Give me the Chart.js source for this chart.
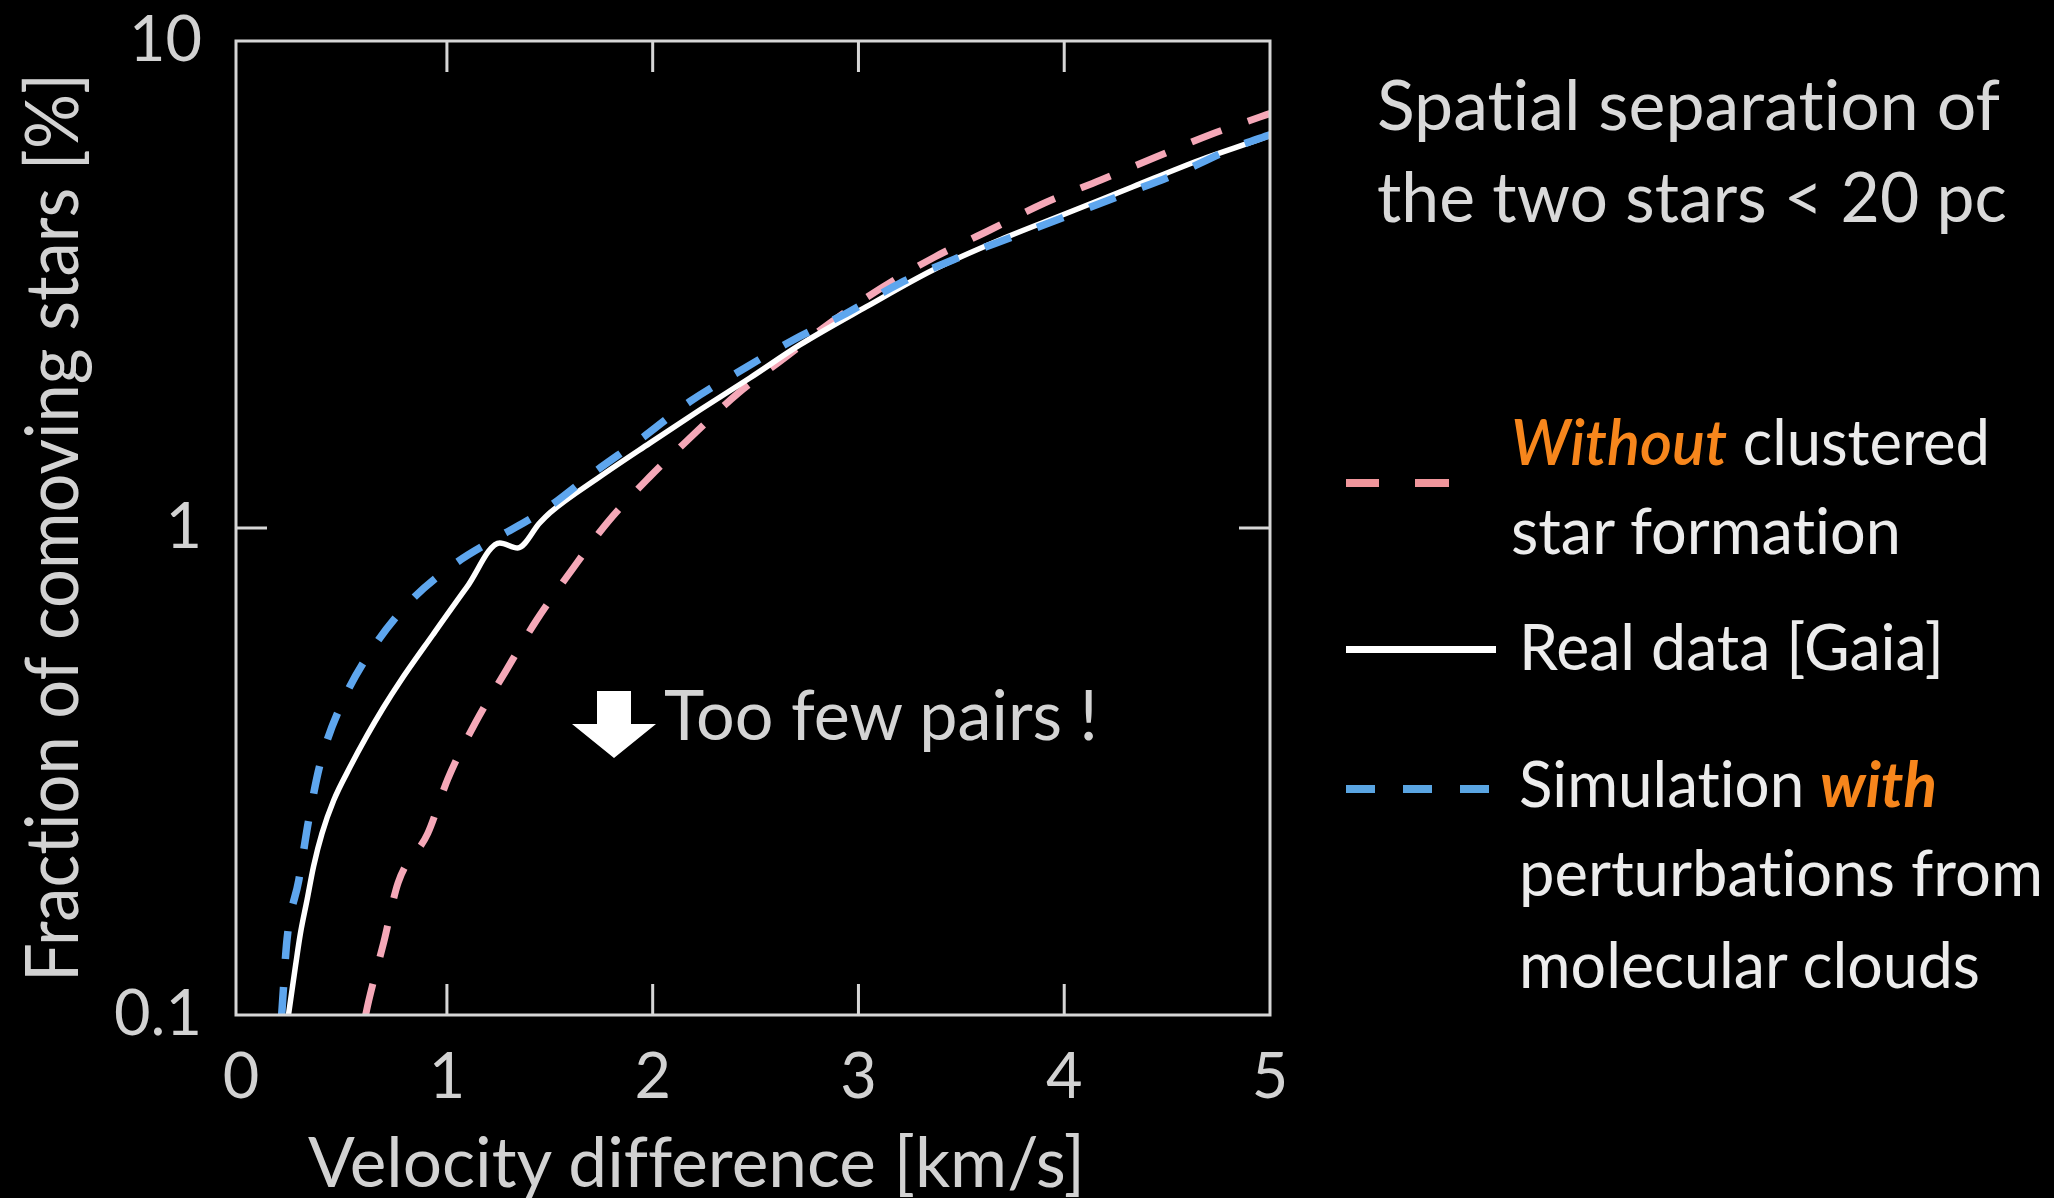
<!DOCTYPE html>
<html><head><meta charset="utf-8">
<script src="https://cdn.jsdelivr.net/npm/chart.js@4.4.1/dist/chart.umd.min.js"></script>
<style>
html,body{margin:0;padding:0;background:#000;overflow:hidden}
#wrap{position:relative;width:2054px;height:1198px;background:#000}
canvas{display:block;position:absolute;left:0;top:0}
.t{position:absolute;left:0;top:0;white-space:nowrap;font-family:Lato,sans-serif;line-height:1.2;margin:0;padding:0;
   font-variant-ligatures:none;font-feature-settings:"liga" 0,"clig" 0,"dlig" 0}
.t span{font-family:Lato,sans-serif;white-space:pre}
.t span.p{display:inline-block}
</style>
</head><body>
<div id="wrap">
<canvas id="c" width="2054" height="1198" style="width:2054px;height:1198px"></canvas>
</div>
<script>
// ---- data ----
const realV = [0.23, 0.264, 0.288, 0.320, 0.352, 0.393, 0.450, 0.531, 0.612, 0.693, 0.771, 0.931, 1.096, 1.257, 1.344, 1.451, 1.500, 1.743, 1.986, 2.229, 2.472, 2.715, 3.039, 3.362, 3.687, 4.012, 4.334, 4.660, 4.984, 5.0];
const realF = [0.100, 0.126, 0.147, 0.172, 0.202, 0.236, 0.276, 0.324, 0.375, 0.429, 0.483, 0.603, 0.755, 0.932, 0.910, 1.024, 1.074, 1.274, 1.494, 1.747, 2.032, 2.376, 2.848, 3.387, 3.904, 4.428, 5.021, 5.696, 6.361, 6.40];
const simV = [0.197, 0.223, 0.280, 0.328, 0.385, 0.490, 0.628, 0.813, 1.036, 1.246, 1.469, 1.719, 1.946, 2.180, 2.432, 2.683, 2.942, 3.201, 3.477, 3.752, 4.028, 4.303, 4.571, 4.838, 5.0];
const simF = [0.100, 0.143, 0.189, 0.251, 0.329, 0.437, 0.557, 0.701, 0.843, 0.956, 1.085, 1.305, 1.528, 1.817, 2.111, 2.432, 2.760, 3.180, 3.579, 3.965, 4.392, 4.867, 5.391, 6.067, 6.42];
const noClusterV = [0.605, 0.620, 0.693, 0.763, 0.907, 1.004, 1.138, 1.283, 1.437, 1.607, 1.782, 1.986, 2.196, 2.415, 2.647, 2.861, 3.119, 3.371, 3.639, 3.904, 4.178, 4.446, 4.718, 4.951, 5.0];
const noClusterF = [0.100, 0.107, 0.141, 0.187, 0.236, 0.305, 0.398, 0.506, 0.648, 0.820, 1.029, 1.274, 1.552, 1.891, 2.244, 2.636, 3.126, 3.602, 4.092, 4.649, 5.184, 5.779, 6.442, 6.98, 7.1];
const xTickValues = [0, 1, 2, 3, 4, 5];
const yTickValues = [0.1, 1, 10];
const yTickLabels = ['0.1', '1', '10'];
const xInnerTicks = [1, 2, 3, 4];
const yInnerTicks = [1];
const xTitle = 'Velocity difference [km/s]';
const yTitle = 'Fraction of comoving stars [%]';
const headerLines = ['Spatial separation of', 'the two stars < 20 pc'];

const pts = (xs, ys) => xs.map((v, i) => ({x: v, y: ys[i]}));
const FONT = 'Lato';
const AXIS_GRAY = '#d2d2d2';
const ORANGE = '#f7861c', LEG = '#ececec', HEAD = '#d9d9d9';

// split a string where the font would form a ligature (ti, ff, fi, fl)
function ligPieces(str) {
  const out = []; let cur = '';
  for (let i = 0; i < str.length; i++) {
    const p = str[i - 1], c = str[i];
    if (cur && ((p === 't' && c === 'i') || (p === 'f' && 'fil'.includes(c)))) { out.push(cur); cur = ''; }
    cur += c;
  }
  if (cur) out.push(cur);
  return out;
}

// HTML text placed by baseline, fitted to the measured width of the reference
function placeText(segs, x, baseline, width, size, rotate) {
  const wrap = document.getElementById('wrap');
  const d = document.createElement('div');
  d.className = 't';
  d.style.fontSize = size + 'px';
  segs.forEach(s => {
    ligPieces(s.t).forEach(piece => {
      const sp = document.createElement('span');
      sp.className = 'p';
      sp.textContent = piece;
      sp.style.color = s.c;
      sp.style.fontStyle = s.style || 'normal';
      sp.style.fontWeight = s.weight || 400;
      d.appendChild(sp);
    });
  });
  const mk = document.createElement('span');
  mk.style.cssText = 'display:inline-block;width:0;height:0;vertical-align:baseline';
  d.appendChild(mk);
  wrap.appendChild(d);
  const b = mk.offsetTop;
  const w = d.getBoundingClientRect().width;
  let sx = width / w; sx = Math.max(0.8, Math.min(1.25, sx));
  d.style.left = x + 'px';
  d.style.top = (baseline - b) + 'px';
  d.style.transformOrigin = `0px ${b}px`;
  d.style.transform = (rotate ? 'rotate(-90deg) ' : '') + `scaleX(${sx})`;
}

const decor = {
  id: 'decor',
  beforeDraw(chart) {
    const ctx = chart.ctx;
    ctx.save(); ctx.fillStyle = '#000'; ctx.fillRect(0, 0, chart.width, chart.height); ctx.restore();
  },
  afterDatasetsDraw(chart) {
    const ctx = chart.ctx, a = chart.chartArea, xs = chart.scales.x, ys = chart.scales.y;
    ctx.save();
    ctx.strokeStyle = '#d6d6d6'; ctx.lineWidth = 3;
    ctx.strokeRect(a.left, a.top, a.right - a.left, a.bottom - a.top);
    const tl = 31;
    ctx.beginPath();
    xInnerTicks.forEach(v => {
      const p = xs.getPixelForValue(v);
      ctx.moveTo(p, a.bottom); ctx.lineTo(p, a.bottom - tl);
      ctx.moveTo(p, a.top); ctx.lineTo(p, a.top + tl);
    });
    yInnerTicks.forEach(v => {
      const p = ys.getPixelForValue(v);
      ctx.moveTo(a.left, p); ctx.lineTo(a.left + tl, p);
      ctx.moveTo(a.right, p); ctx.lineTo(a.right - tl, p);
    });
    ctx.stroke();
    ctx.restore();
  },
  afterDraw(chart) {
    const ctx = chart.ctx;
    // "too few pairs" arrow
    ctx.save();
    ctx.fillStyle = '#ffffff';
    ctx.beginPath();
    ctx.moveTo(597, 691); ctx.lineTo(631, 691); ctx.lineTo(631, 724); ctx.lineTo(656, 724);
    ctx.lineTo(614, 758); ctx.lineTo(572, 724); ctx.lineTo(597, 724); ctx.closePath(); ctx.fill();
    // legend line samples
    ctx.fillStyle = '#f0969c';
    [[1346, 1379], [1415, 1449]].forEach(d => ctx.fillRect(d[0], 479, d[1] - d[0], 8));
    ctx.fillStyle = '#ffffff';
    ctx.fillRect(1346, 646, 150, 7);
    ctx.fillStyle = '#5aa5e2';
    [[1346, 1375], [1403, 1432], [1460, 1489]].forEach(d => ctx.fillRect(d[0], 785, d[1] - d[0], 8));
    ctx.restore();
  }
};

new Chart(document.getElementById('c'), {
  type: 'line',
  data: {
    datasets: [
      {label: 'Simulation with perturbations from molecular clouds', data: pts(simV, simF),
       borderColor: '#5ea6ee', borderWidth: 7.5, borderDash: [28, 28], order: 1},
      {label: 'Real data [Gaia]', data: pts(realV, realF),
       borderColor: '#ffffff', borderWidth: 5.5, order: 2},
      {label: 'Without clustered star formation', data: pts(noClusterV, noClusterF),
       borderColor: '#f5a8b8', borderWidth: 7, borderDash: [32, 28], order: 3}
    ]
  },
  options: {
    responsive: false, animation: false, devicePixelRatio: 1,
    elements: {point: {radius: 0}, line: {cubicInterpolationMode: 'monotone', fill: false, borderCapStyle: 'butt', borderJoinStyle: 'round'}},
    layout: {padding: {top: 41, right: 784, left: 0, bottom: 0}},
    plugins: {legend: {display: false}, tooltip: {enabled: false}, title: {display: false}},
    scales: {
      x: {
        type: 'linear', min: -0.025, max: 5,
        grid: {display: false}, border: {display: false},
        ticks: {color: AXIS_GRAY, font: {family: FONT, size: 63}, padding: 17, maxRotation: 0, autoSkip: false},
        afterBuildTicks: s => { s.ticks = xTickValues.map(v => ({value: v})); },
        afterFit: s => { s.height = 183; s.paddingLeft = 0; s.paddingRight = 0; }
      },
      y: {
        type: 'logarithmic', min: 0.1, max: 10,
        grid: {display: false}, border: {display: false},
        ticks: {color: AXIS_GRAY, font: {family: FONT, size: 63}, padding: 26, autoSkip: false,
                callback: v => { const i = yTickValues.indexOf(v); return i >= 0 ? yTickLabels[i] : ''; }},
        afterBuildTicks: s => { s.ticks = yTickValues.map(v => ({value: v})); },
        afterFit: s => { s.width = 236; s.paddingTop = 0; s.paddingBottom = 0; }
      }
    }
  },
  plugins: [decor]
});

// texts
placeText([{t: xTitle, c: AXIS_GRAY}], 308, 1187, 777, 70);
placeText([{t: yTitle, c: AXIS_GRAY}], 78, 982, 909, 74, true);
placeText([{t: 'Too few pairs !', c: '#d4d4d4'}], 664, 740, 434, 70);
placeText([{t: headerLines[0], c: HEAD}], 1377, 130, 623, 70);
placeText([{t: headerLines[1], c: HEAD}], 1377, 222, 630, 70);
placeText([{t: 'Without', c: ORANGE, style: 'italic', weight: 600}, {t: ' clustered', c: LEG}], 1511, 465, 479, 63);
placeText([{t: 'star formation', c: LEG}], 1511, 554, 390, 63);
placeText([{t: 'Real data [Gaia]', c: LEG}], 1519, 670, 425, 63);
placeText([{t: 'Simulation ', c: LEG}, {t: 'with', c: ORANGE, style: 'italic', weight: 700}], 1519, 807, 418, 63);
placeText([{t: 'perturbations from', c: LEG}], 1519, 896, 524, 63);
placeText([{t: 'molecular clouds', c: LEG}], 1519, 988, 461, 63);
</script>
</body></html>
